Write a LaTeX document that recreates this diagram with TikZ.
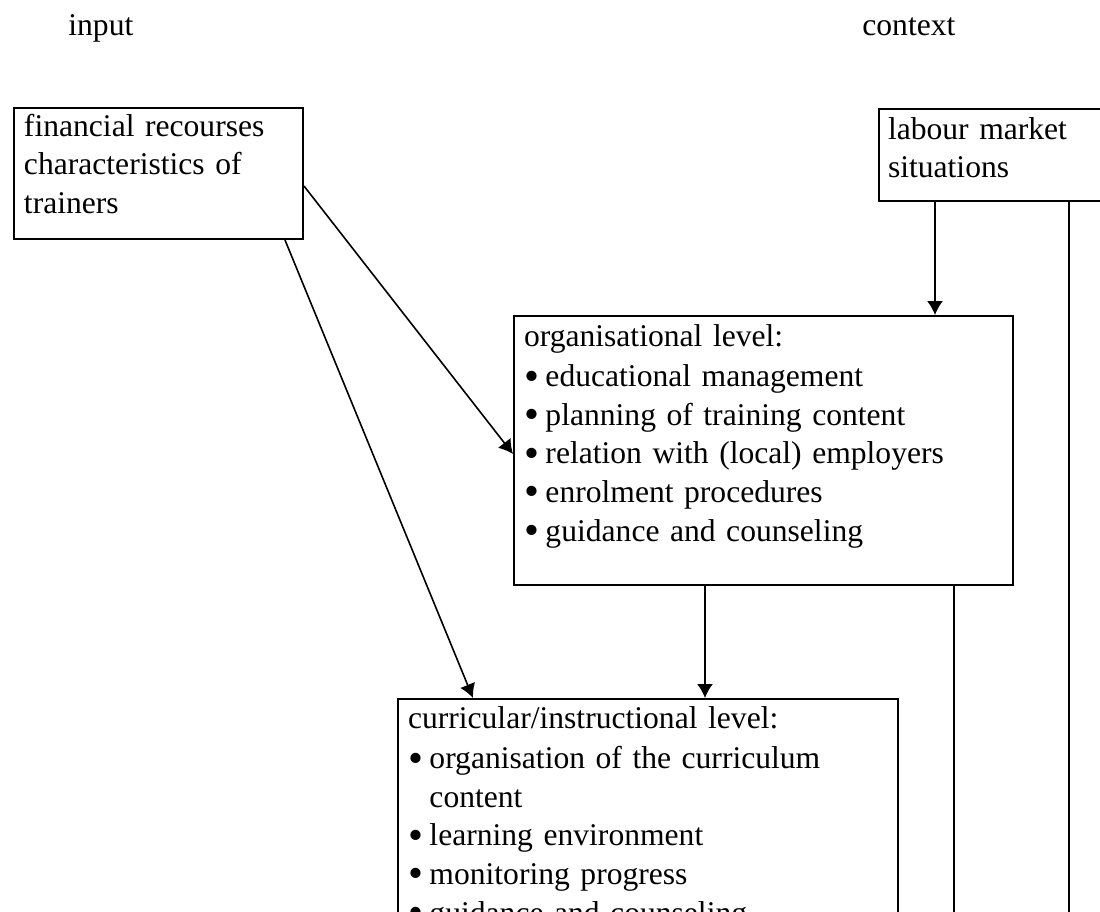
\documentclass[tikz,border=0pt]{standalone}
\usepackage{fontspec}
\setmainfont{Liberation Serif}
\usetikzlibrary{arrows.meta}
\newcommand\wordfont{\fontsize{15.8pt}{19.3pt}\selectfont}
\newcommand\blt{\makebox[0.68em][l]{\raisebox{-0.11em}{\scalebox{1.35}{\textbullet}}}}
\tikzset{
	lvlbox/.style={draw=black, line width=1pt, anchor=north west, align=left, inner ysep=0pt, inner xsep=5pt, font=\wordfont},
	lbl/.style={anchor=base west, inner sep=0pt, font=\wordfont},
	flow/.style={line width=0.8pt, -{Latex[length=7pt, width=8pt]}},
	openline/.style={line width=0.8pt}
}

\begin{document}
\begin{tikzpicture}[x=0.5pt, y=-0.5pt]

			\useasboundingbox (0,0) rectangle (1100,912);
			\clip (0,0) rectangle (1100,912);

			% column titles
			\node[lbl] (inputlbl) at (68,35) {input};
			\node[lbl] (contextlbl) at (862,35) {context};

			% boxes
			\node[lvlbox, text width=134.5pt, text height=14pt, text depth=51.5pt] (inputbox) at (13,107)
				{financial recourses\\ characteristics of\\ trainers};
			\node[lvlbox, inner xsep=4.5pt, text width=131pt, text height=15pt, text depth=31pt] (labourbox) at (878,108)
				{labour market\\ situations};
			\node[lvlbox, text width=239.5pt, text height=15pt, text depth=119.5pt] (orgbox) at (513,315)
				{organisational level:\\[1pt]
				\blt educational management\\
				\blt planning of training content\\
				\blt relation with (local) employers\\
				\blt enrolment procedures\\
				\blt guidance and counseling};
			\node[lvlbox, text width=240pt, text height=14.5pt, text depth=185.5pt] (currbox) at (397,698)
				{curricular/instructional level:\\[1pt]
				\blt organisation of the curriculum\\
				\phantom{\blt}content\\
				\blt learning environment\\
				\blt monitoring progress\\
				\blt guidance and counseling};

			% drop points
			\coordinate (bottomedge) at (0,960);
			\coordinate (labdrop) at ([xshift=28.5pt]labourbox.south west);
			\coordinate (labside) at ([xshift=95.5pt]labourbox.south west);
			\coordinate (orgdrop) at ([xshift=96pt]orgbox.south west);
			\coordinate (orgside) at ([xshift=220.5pt]orgbox.south west);
			\coordinate (labend) at (labside |- bottomedge);
			\coordinate (orgend) at (orgside |- bottomedge);

			% connectors
			\draw[flow] ([yshift=-6.25pt]inputbox.east) -- ([yshift=-1.75pt]orgbox.west);
			\draw[flow] ([xshift=-9.5pt]inputbox.south east) -- ([xshift=38pt]currbox.north west);
			\draw[flow] (labdrop) -- (labdrop |- orgbox.north);
			\draw[flow] (orgdrop) -- (orgdrop |- currbox.north);
			\draw[openline] (labside) -- (labend);
			\draw[openline] (orgside) -- (orgend);

\end{tikzpicture}
\end{document}
